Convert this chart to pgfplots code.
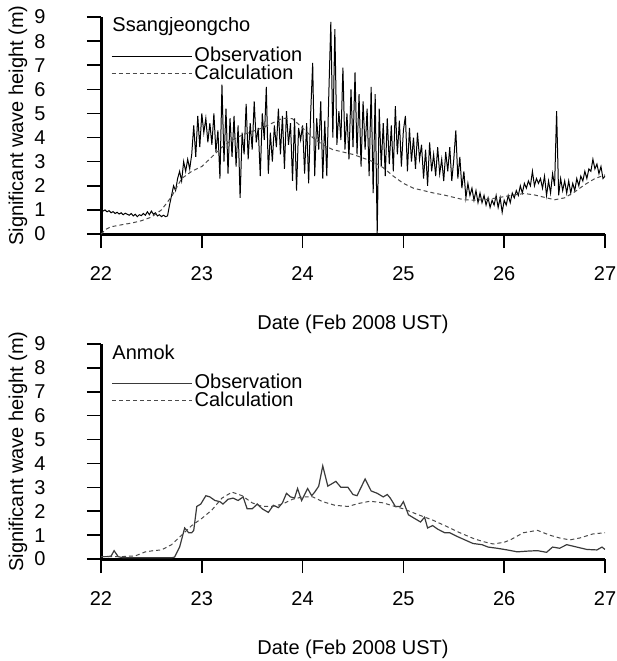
\documentclass[border=0pt]{standalone}
\usepackage{pgfplots}
\pgfplotsset{compat=1.18}
\usepackage{fontspec}
\setmainfont{Liberation Sans}
\definecolor{obsgray}{HTML}{3A3A3A}
\definecolor{calcgray}{HTML}{4A4A4A}
\pgfplotsset{
  myax/.style={
    scale only axis, width=252bp,
    xmin=22, xmax=27, ymin=0, ymax=9,
    axis x line=bottom, axis y line=left,
    axis line style={line width=1.5bp, -},
    xtick={22,23,24,25,26,27}, ytick={0,1,2,3,4,5,6,7,8,9},
    tick align=outside, major tick length=7bp,
    every tick/.style={black, line width=0.8bp},
    /pgf/number format/assume math mode=true,
    xticklabel style={anchor=center, yshift=-13bp},
    yticklabel style={anchor=center, xshift=-23.5bp},
    xlabel={Date (Feb 2008 UST)},
    ylabel={Significant wave height (m)},
    every axis y label/.style={at={(axis description cs:-0.1647,0.5)}, rotate=90, anchor=center},
    legend cell align=left,
    legend image code/.code={\draw[##1] (0bp,0bp) -- (35.5bp,0bp); \path (0bp,0bp) -- (40bp,0bp);},
    legend style={draw=none, fill=none, anchor=north west, inner sep=0pt,
      row sep=-2bp, nodes={inner sep=1bp}},
  }
}
\begin{document}
\fontsize{10bp}{12bp}\selectfont
\begin{tikzpicture}
\useasboundingbox (0bp,0bp) rectangle (308.5bp,-330.5bp);
% ---------- Top panel ----------
\begin{axis}[myax, height=108.5bp, at={(50.5bp,-117bp)}, anchor=south west,
  every axis x label/.style={at={(axis description cs:0.5,-0.415)}, anchor=center},
  legend style={at={(axis description cs:0.02,0.871)}}]
\addplot[black, line width=0.5bp] table {
22.00 1.00
22.02 0.95
22.04 1.00
22.06 0.92
22.08 0.97
22.10 0.88
22.12 0.93
22.14 0.85
22.16 0.90
22.18 0.83
22.20 0.88
22.22 0.80
22.24 0.86
22.26 0.82
22.28 0.78
22.30 0.85
22.32 0.75
22.34 0.82
22.36 0.72
22.38 0.80
22.40 0.76
22.42 0.85
22.44 0.78
22.46 0.92
22.48 0.80
22.50 0.95
22.52 0.82
22.54 0.88
22.56 0.75
22.58 0.80
22.60 0.72
22.62 0.78
22.64 0.72
22.66 0.75
22.68 1.20
22.70 1.60
22.72 2.00
22.74 1.80
22.76 2.30
22.78 2.60
22.80 2.20
22.82 3.00
22.84 2.60
22.86 3.10
22.88 2.70
22.90 3.30
22.92 4.50
22.94 3.20
22.96 4.90
22.98 3.60
23.00 5.00
23.02 4.20
23.04 4.80
23.06 3.80
23.08 4.60
23.10 3.70
23.12 5.00
23.14 3.40
23.16 4.30
23.18 2.30
23.20 6.20
23.22 3.00
23.24 5.20
23.26 2.50
23.28 4.80
23.30 3.20
23.32 4.90
23.34 2.80
23.36 4.50
23.38 1.50
23.40 4.20
23.42 3.30
23.44 5.40
23.46 3.10
23.48 4.60
23.50 3.50
23.52 5.50
23.54 3.80
23.56 4.40
23.58 2.40
23.60 5.00
23.62 3.90
23.64 6.10
23.66 2.50
23.68 4.20
23.70 3.00
23.72 4.50
23.74 3.60
23.76 5.20
23.78 3.30
23.80 4.90
23.82 2.70
23.84 5.10
23.86 3.70
23.88 4.60
23.90 2.20
23.92 4.80
23.94 1.80
23.96 4.40
23.98 3.90
24.00 4.50
24.02 2.50
24.04 4.60
24.06 2.10
24.08 5.00
24.10 7.10
24.12 2.40
24.14 4.80
24.16 3.50
24.18 5.50
24.20 2.30
24.22 4.70
24.24 2.40
24.26 5.80
24.28 8.80
24.30 4.00
24.32 8.50
24.34 3.70
24.36 5.10
24.38 3.90
24.40 6.90
24.42 3.50
24.44 5.00
24.46 3.10
24.48 6.00
24.50 3.60
24.52 6.70
24.54 3.30
24.56 5.80
24.58 2.80
24.60 5.50
24.62 3.50
24.64 5.20
24.66 2.40
24.68 6.10
24.70 1.70
24.72 5.80
24.74 0.00
24.76 5.20
24.78 2.80
24.80 4.60
24.82 2.40
24.84 4.80
24.86 2.90
24.88 4.50
24.90 2.60
24.92 5.30
24.94 3.30
24.96 4.70
24.98 2.80
25.00 4.30
25.02 4.90
25.04 2.60
25.06 4.40
25.08 3.00
25.10 4.00
25.12 2.70
25.14 4.20
25.16 3.10
25.18 3.70
25.20 2.30
25.22 3.50
25.24 2.00
25.26 3.80
25.28 2.60
25.30 3.30
25.32 2.40
25.34 3.60
25.36 2.50
25.38 3.10
25.40 2.20
25.42 3.40
25.44 2.60
25.46 3.60
25.48 2.20
25.50 3.10
25.52 4.30
25.54 2.30
25.56 3.20
25.58 1.90
25.60 2.60
25.62 1.50
25.64 2.10
25.66 1.60
25.68 1.90
25.70 1.40
25.72 1.80
25.74 1.30
25.76 1.70
25.78 1.30
25.80 1.60
25.82 1.20
25.84 1.50
25.86 1.10
25.88 1.40
25.90 1.20
25.92 1.60
25.94 1.10
25.96 1.50
25.98 0.90
26.00 1.40
26.02 1.20
26.04 1.60
26.06 1.30
26.08 1.70
26.10 1.50
26.12 1.80
26.14 1.60
26.16 2.00
26.18 1.70
26.20 2.10
26.22 1.90
26.24 2.20
26.26 2.00
26.28 2.60
26.30 2.00
26.32 2.30
26.34 2.10
26.36 2.30
26.38 1.90
26.40 2.40
26.42 1.60
26.44 2.20
26.46 1.70
26.48 2.50
26.50 2.00
26.52 5.10
26.54 1.60
26.56 2.30
26.58 1.80
26.60 2.20
26.62 1.70
26.64 2.20
26.66 1.70
26.68 2.10
26.70 1.80
26.72 2.30
26.74 2.00
26.76 2.40
26.78 2.20
26.80 2.60
26.82 2.30
26.84 2.70
26.86 2.60
26.88 3.10
26.90 2.70
26.92 2.90
26.94 2.50
26.96 2.80
26.98 2.30
27.00 2.40
};
\addlegendentry{Observation}
\addplot[calcgray, line width=0.5bp, dash pattern=on 2bp off 1.5bp] table {
22.00 0.00
22.05 0.20
22.10 0.30
22.20 0.38
22.30 0.45
22.40 0.55
22.50 0.70
22.60 1.00
22.70 1.55
22.80 2.30
22.90 2.60
23.00 2.80
23.10 3.20
23.20 3.60
23.30 3.90
23.40 4.10
23.50 4.25
23.60 4.40
23.70 4.60
23.80 4.80
23.90 4.78
24.00 4.40
24.10 4.00
24.20 3.70
24.30 3.50
24.40 3.40
24.50 3.30
24.60 3.15
24.70 3.00
24.80 2.75
24.90 2.40
25.00 2.10
25.10 1.90
25.20 1.80
25.30 1.70
25.40 1.62
25.50 1.52
25.60 1.42
25.70 1.40
25.80 1.42
25.90 1.48
26.00 1.55
26.10 1.62
26.20 1.68
26.30 1.62
26.40 1.52
26.50 1.42
26.60 1.50
26.70 1.75
26.80 2.05
26.90 2.30
27.00 2.45
};
\addlegendentry{Calculation}
\node[anchor=west, inner sep=0pt] at (axis description cs:0.022,0.959) {Ssangjeongcho};
\end{axis}
% ---------- Bottom panel ----------
\begin{axis}[myax, height=107.5bp, at={(50.5bp,-279.5bp)}, anchor=south west,
  every axis x label/.style={at={(axis description cs:0.5,-0.42)}, anchor=center},
  legend style={at={(axis description cs:0.02,0.870)}}]
\addplot[obsgray, line width=0.6bp] table {
22.00 0.10
22.06 0.10
22.10 0.12
22.13 0.35
22.17 0.10
22.22 0.05
22.30 0.05
22.40 0.05
22.50 0.05
22.60 0.05
22.70 0.05
22.73 0.08
22.78 0.50
22.83 1.30
22.87 1.10
22.90 1.10
22.92 1.20
22.95 2.20
22.99 2.30
23.04 2.65
23.08 2.60
23.13 2.45
23.18 2.40
23.21 2.30
23.26 2.50
23.31 2.55
23.36 2.45
23.41 2.60
23.45 2.10
23.50 2.10
23.55 2.30
23.60 2.10
23.66 1.95
23.71 2.25
23.76 2.15
23.80 2.35
23.84 2.75
23.88 2.60
23.92 2.55
23.95 2.95
23.99 2.45
24.05 2.95
24.09 2.65
24.12 2.80
24.16 3.05
24.20 3.90
24.25 3.05
24.33 3.25
24.38 3.00
24.45 3.00
24.50 2.70
24.54 2.65
24.62 3.35
24.68 2.85
24.74 2.75
24.80 2.60
24.84 2.70
24.87 2.55
24.92 2.20
24.97 2.20
25.00 2.40
25.05 1.85
25.11 1.70
25.17 1.55
25.21 1.75
25.24 1.30
25.29 1.40
25.34 1.25
25.41 1.10
25.46 1.10
25.53 0.95
25.61 0.80
25.69 0.65
25.78 0.60
25.84 0.50
25.93 0.45
26.03 0.38
26.13 0.30
26.23 0.33
26.33 0.35
26.42 0.28
26.48 0.50
26.55 0.45
26.62 0.60
26.72 0.50
26.82 0.40
26.92 0.38
26.97 0.50
27.00 0.40
};
\addlegendentry{Observation}
\addplot[calcgray, line width=0.5bp, dash pattern=on 2bp off 1.5bp] table {
22.00 0.10
22.10 0.10
22.20 0.10
22.34 0.13
22.44 0.30
22.52 0.35
22.60 0.38
22.70 0.60
22.80 1.00
22.90 1.40
23.00 1.70
23.10 2.05
23.20 2.55
23.30 2.80
23.40 2.65
23.50 2.35
23.60 2.20
23.70 2.20
23.80 2.30
23.90 2.50
24.00 2.60
24.10 2.60
24.20 2.40
24.32 2.25
24.45 2.20
24.55 2.32
24.67 2.42
24.80 2.35
24.90 2.22
25.00 2.10
25.15 1.85
25.29 1.63
25.42 1.38
25.56 1.10
25.70 0.85
25.79 0.73
25.89 0.63
26.00 0.70
26.06 0.80
26.19 1.10
26.33 1.20
26.45 1.00
26.55 0.88
26.65 0.80
26.75 0.88
26.88 1.05
27.00 1.10
};
\addlegendentry{Calculation}
\node[anchor=west, inner sep=0pt] at (axis description cs:0.022,0.963) {Anmok};
\end{axis}
\end{tikzpicture}
\end{document}
